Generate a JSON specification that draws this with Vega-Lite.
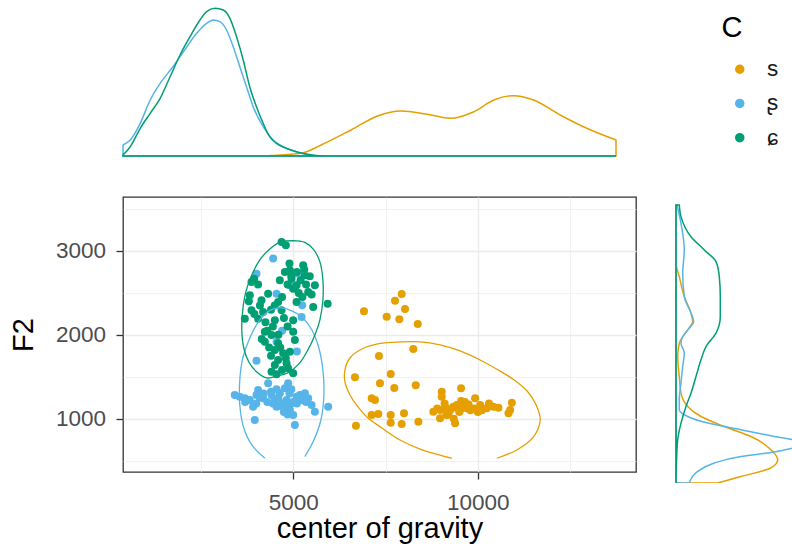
{
  "$schema": "https://vega.github.io/schema/vega-lite/v6.json",
  "background": "white",
  "padding": {"left": 8, "top": 1, "right": 0, "bottom": 0},
  "autosize": {"type": "pad"},
  "config": {
    "font": "Liberation Sans",
    "view": {"stroke": null},
    "axis": {
      "labelFont": "Liberation Sans", "labelFontSize": 22.5, "labelColor": "#4D4D4D",
      "titleFont": "Liberation Sans", "titleFontSize": 29, "titleFontWeight": "normal", "titleColor": "#000000",
      "tickColor": "#333333", "tickSize": 7, "tickWidth": 1.3, "domain": false,
      "gridColor": "#EBEBEB"
    }
  },
  "columns": 2,
  "bounds": "flush",
  "align": "each",
  "spacing": {"row": 41, "column": 39},
  "resolve": {"legend": {"color": "independent", "stroke": "independent"}},
  "datasets": {
    "scatter": [
      {"C":"s","cog":7939,"F2":2488},{"C":"s","cog":7757,"F2":2408},{"C":"s","cog":8028,"F2":2309},{"C":"s","cog":6917,"F2":2281},{"C":"s","cog":7532,"F2":2217},{"C":"s","cog":7874,"F2":2186},{"C":"s","cog":8373,"F2":2130},{"C":"s","cog":8253,"F2":1832},{"C":"s","cog":7323,"F2":1748},{"C":"s","cog":7641,"F2":1533},{"C":"s","cog":6673,"F2":1494},{"C":"s","cog":7350,"F2":1422},{"C":"s","cog":7738,"F2":1366},{"C":"s","cog":8318,"F2":1398},{"C":"s","cog":9023,"F2":1322},{"C":"s","cog":9546,"F2":1363},{"C":"s","cog":7125,"F2":1243},{"C":"s","cog":7215,"F2":1223},{"C":"s","cog":9023,"F2":1262},{"C":"s","cog":8795,"F2":1084},{"C":"s","cog":9159,"F2":1124},{"C":"s","cog":9338,"F2":1143},{"C":"s","cog":9430,"F2":1163},{"C":"s","cog":9701,"F2":1124},{"C":"s","cog":9926,"F2":1243},{"C":"s","cog":10062,"F2":1163},{"C":"s","cog":10243,"F2":1124},{"C":"s","cog":10422,"F2":1143},{"C":"s","cog":10558,"F2":1130},{"C":"s","cog":10921,"F2":1191},{"C":"s","cog":10875,"F2":1104},{"C":"s","cog":10829,"F2":1064},{"C":"s","cog":7125,"F2":1044},{"C":"s","cog":7304,"F2":1056},{"C":"s","cog":7641,"F2":1044},{"C":"s","cog":7641,"F2":952},{"C":"s","cog":8001,"F2":1064},{"C":"s","cog":7939,"F2":937},{"C":"s","cog":8389,"F2":964},{"C":"s","cog":8977,"F2":1005},{"C":"s","cog":9384,"F2":945},{"C":"s","cog":6700,"F2":916},{"C":"s","cog":9100,"F2":1180},{"C":"s","cog":9250,"F2":1100},{"C":"s","cog":9500,"F2":1080},{"C":"s","cog":9600,"F2":1150},{"C":"s","cog":9800,"F2":1100},{"C":"s","cog":9200,"F2":1050},{"C":"s","cog":9350,"F2":1000},{"C":"s","cog":9650,"F2":1200},{"C":"s","cog":9900,"F2":1120},{"C":"s","cog":10100,"F2":1100},{"C":"s","cog":9450,"F2":1120},{"C":"s","cog":9550,"F2":1210},{"C":"s","cog":10300,"F2":1180},{"C":"s","cog":9750,"F2":1170},{"C":"s","cog":10000,"F2":1080},{"C":"s","cog":8900,"F2":1120},{"C":"s","cog":9150,"F2":1050},{"C":"s","cog":9519,"F2":1104},{"C":"s","cog":8977,"F2":1104},{"C":"s","cog":9159,"F2":1044},{"C":"s","cog":10107,"F2":1104},
      {"C":"ʂ","cog":4458,"F2":2909},{"C":"ʂ","cog":4008,"F2":2730},{"C":"ʂ","cog":4911,"F2":2591},{"C":"ʂ","cog":5136,"F2":2730},{"C":"ʂ","cog":4550,"F2":2491},{"C":"ʂ","cog":5244,"F2":2353},{"C":"ʂ","cog":5228,"F2":2213},{"C":"ʂ","cog":4550,"F2":1919},{"C":"ʂ","cog":4008,"F2":1692},{"C":"ʂ","cog":4700,"F2":2050},{"C":"ʂ","cog":5100,"F2":1800},
      {"C":"ʂ","cog":3419,"F2":1283},{"C":"ʂ","cog":3555,"F2":1262},{"C":"ʂ","cog":3691,"F2":1243},{"C":"ʂ","cog":3826,"F2":1223},{"C":"ʂ","cog":3916,"F2":1143},{"C":"ʂ","cog":4008,"F2":1283},{"C":"ʂ","cog":4051,"F2":1342},{"C":"ʂ","cog":4187,"F2":1243},{"C":"ʂ","cog":4322,"F2":1422},{"C":"ʂ","cog":4414,"F2":1283},{"C":"ʂ","cog":4504,"F2":1223},{"C":"ʂ","cog":4550,"F2":1143},{"C":"ʂ","cog":4639,"F2":1303},{"C":"ʂ","cog":4775,"F2":1363},{"C":"ʂ","cog":4821,"F2":1223},{"C":"ʂ","cog":4864,"F2":1422},{"C":"ʂ","cog":4911,"F2":1104},{"C":"ʂ","cog":5000,"F2":1044},{"C":"ʂ","cog":5046,"F2":925},{"C":"ʂ","cog":4957,"F2":1184},{"C":"ʂ","cog":5092,"F2":1262},{"C":"ʂ","cog":5182,"F2":1283},{"C":"ʂ","cog":5317,"F2":1303},{"C":"ʂ","cog":5407,"F2":1243},{"C":"ʂ","cog":5499,"F2":1163},{"C":"ʂ","cog":5588,"F2":1084},{"C":"ʂ","cog":5949,"F2":1143},{"C":"ʂ","cog":3961,"F2":984},
      {"C":"ʂ","cog":4300,"F2":1200},{"C":"ʂ","cog":4600,"F2":1250},{"C":"ʂ","cog":4700,"F2":1180},{"C":"ʂ","cog":4400,"F2":1320},{"C":"ʂ","cog":4900,"F2":1300},{"C":"ʂ","cog":5000,"F2":1200},{"C":"ʂ","cog":4750,"F2":1080},{"C":"ʂ","cog":4850,"F2":1050},{"C":"ʂ","cog":4200,"F2":1300},{"C":"ʂ","cog":3700,"F2":1200},{"C":"ʂ","cog":4650,"F2":1150},{"C":"ʂ","cog":5100,"F2":1180},{"C":"ʂ","cog":5250,"F2":1220},{"C":"ʂ","cog":4450,"F2":1180},{"C":"ʂ","cog":4950,"F2":1350},{"C":"ʂ","cog":5350,"F2":1200},{"C":"ʂ","cog":4550,"F2":1350},{"C":"ʂ","cog":4000,"F2":1180},{"C":"ʂ","cog":4100,"F2":1250},{"C":"ʂ","cog":4850,"F2":1150},
      {"C":"ɕ","cog":4686,"F2":3108},{"C":"ɕ","cog":4802,"F2":3069},{"C":"ɕ","cog":3943,"F2":2670},{"C":"ɕ","cog":3872,"F2":2631},{"C":"ɕ","cog":4775,"F2":2750},{"C":"ɕ","cog":4911,"F2":2770},{"C":"ɕ","cog":5271,"F2":2830},{"C":"ɕ","cog":5317,"F2":2711},{"C":"ɕ","cog":4639,"F2":2651},{"C":"ɕ","cog":4957,"F2":2670},{"C":"ɕ","cog":5092,"F2":2591},{"C":"ɕ","cog":5588,"F2":2591},{"C":"ɕ","cog":5407,"F2":2512},{"C":"ɕ","cog":3826,"F2":2472},{"C":"ɕ","cog":4322,"F2":2491},{"C":"ɕ","cog":4143,"F2":2412},{"C":"ɕ","cog":4593,"F2":2392},{"C":"ɕ","cog":5092,"F2":2392},{"C":"ɕ","cog":5542,"F2":2333},{"C":"ɕ","cog":5933,"F2":2372},{"C":"ɕ","cog":3872,"F2":2293},{"C":"ɕ","cog":4187,"F2":2273},{"C":"ɕ","cog":4686,"F2":2293},{"C":"ɕ","cog":3691,"F2":2193},{"C":"ɕ","cog":4051,"F2":2193},{"C":"ɕ","cog":4504,"F2":2174},{"C":"ɕ","cog":5000,"F2":2174},{"C":"ɕ","cog":4233,"F2":2038},{"C":"ɕ","cog":4414,"F2":1999},{"C":"ɕ","cog":5000,"F2":2038},{"C":"ɕ","cog":4233,"F2":1919},{"C":"ɕ","cog":4593,"F2":1900},{"C":"ɕ","cog":5046,"F2":1939},{"C":"ɕ","cog":4504,"F2":1820},{"C":"ɕ","cog":4729,"F2":1780},{"C":"ɕ","cog":4911,"F2":1799},{"C":"ɕ","cog":4593,"F2":1700},{"C":"ɕ","cog":4821,"F2":1661},{"C":"ɕ","cog":4504,"F2":1640},{"C":"ɕ","cog":4414,"F2":1561},{"C":"ɕ","cog":5000,"F2":1542},{"C":"ɕ","cog":4864,"F2":1601},
      {"C":"ɕ","cog":4950,"F2":2700},{"C":"ɕ","cog":5100,"F2":2750},{"C":"ɕ","cog":5200,"F2":2650},{"C":"ɕ","cog":4850,"F2":2600},{"C":"ɕ","cog":5000,"F2":2550},{"C":"ɕ","cog":5150,"F2":2500},{"C":"ɕ","cog":4700,"F2":2450},{"C":"ɕ","cog":4400,"F2":2300},{"C":"ɕ","cog":4250,"F2":2150},{"C":"ɕ","cog":4450,"F2":2100},{"C":"ɕ","cog":4600,"F2":2000},{"C":"ɕ","cog":4350,"F2":1850},{"C":"ɕ","cog":4650,"F2":1850},{"C":"ɕ","cog":4800,"F2":1720},{"C":"ɕ","cog":4400,"F2":1750},{"C":"ɕ","cog":4700,"F2":1580},{"C":"ɕ","cog":4550,"F2":1530},{"C":"ɕ","cog":3800,"F2":2400},{"C":"ɕ","cog":3950,"F2":2250},{"C":"ɕ","cog":4100,"F2":2350},{"C":"ɕ","cog":5250,"F2":2450},{"C":"ɕ","cog":5350,"F2":2600},{"C":"ɕ","cog":5450,"F2":2700},{"C":"ɕ","cog":5300,"F2":2780},{"C":"ɕ","cog":4900,"F2":2850},{"C":"ɕ","cog":5500,"F2":2480},{"C":"ɕ","cog":4050,"F2":2600},{"C":"ɕ","cog":4750,"F2":2200},{"C":"ɕ","cog":4850,"F2":2100},{"C":"ɕ","cog":4500,"F2":2350},{"C":"ɕ","cog":4300,"F2":2050},{"C":"ɕ","cog":4150,"F2":1950}
    ],
    "ellipse": [
      {"C":"s","i":1,"cog":10514,"F2":528},{"C":"s","i":2,"cog":11056,"F2":627},{"C":"s","i":3,"cog":11506,"F2":782},{"C":"s","i":4,"cog":11688,"F2":984},{"C":"s","i":5,"cog":11579,"F2":1163},{"C":"s","i":6,"cog":11335,"F2":1330},{"C":"s","i":7,"cog":10983,"F2":1462},{"C":"s","i":8,"cog":10549,"F2":1581},{"C":"s","i":9,"cog":10061,"F2":1700},{"C":"s","i":10,"cog":9519,"F2":1808},{"C":"s","i":11,"cog":8976,"F2":1879},{"C":"s","i":12,"cog":8434,"F2":1915},{"C":"s","i":13,"cog":7893,"F2":1915},{"C":"s","i":14,"cog":7350,"F2":1897},{"C":"s","i":15,"cog":6862,"F2":1831},{"C":"s","i":16,"cog":6537,"F2":1724},{"C":"s","i":17,"cog":6402,"F2":1581},{"C":"s","i":18,"cog":6402,"F2":1438},{"C":"s","i":19,"cog":6537,"F2":1283},{"C":"s","i":20,"cog":6754,"F2":1140},{"C":"s","i":21,"cog":7025,"F2":1008},{"C":"s","i":22,"cog":7405,"F2":889},{"C":"s","i":23,"cog":7893,"F2":745},{"C":"s","i":24,"cog":8434,"F2":638},{"C":"s","i":25,"cog":8976,"F2":566},{"C":"s","i":26,"cog":9294,"F2":528},
      {"C":"ʂ","i":1,"cog":4233,"F2":528},{"C":"ʂ","i":2,"cog":3880,"F2":687},{"C":"ʂ","i":3,"cog":3663,"F2":889},{"C":"ʂ","i":4,"cog":3555,"F2":1163},{"C":"ʂ","i":5,"cog":3555,"F2":1462},{"C":"ʂ","i":6,"cog":3636,"F2":1724},{"C":"ʂ","i":7,"cog":3826,"F2":1963},{"C":"ʂ","i":8,"cog":4097,"F2":2178},{"C":"ʂ","i":9,"cog":4395,"F2":2297},{"C":"ʂ","i":10,"cog":4667,"F2":2321},{"C":"ʂ","i":11,"cog":4965,"F2":2285},{"C":"ʂ","i":12,"cog":5263,"F2":2202},{"C":"ʂ","i":13,"cog":5507,"F2":2058},{"C":"ʂ","i":14,"cog":5696,"F2":1843},{"C":"ʂ","i":15,"cog":5805,"F2":1581},{"C":"ʂ","i":16,"cog":5832,"F2":1283},{"C":"ʂ","i":17,"cog":5751,"F2":984},{"C":"ʂ","i":18,"cog":5561,"F2":745},{"C":"ʂ","i":19,"cog":5317,"F2":547},
      {"C":"ɕ","i":1,"cog":4992,"F2":3124},{"C":"ɕ","i":2,"cog":5317,"F2":3102},{"C":"ɕ","i":3,"cog":5561,"F2":3013},{"C":"ɕ","i":4,"cog":5724,"F2":2870},{"C":"ɕ","i":5,"cog":5805,"F2":2655},{"C":"ɕ","i":6,"cog":5805,"F2":2416},{"C":"ɕ","i":7,"cog":5724,"F2":2178},{"C":"ɕ","i":8,"cog":5588,"F2":1999},{"C":"ɕ","i":9,"cog":5399,"F2":1820},{"C":"ɕ","i":10,"cog":5155,"F2":1653},{"C":"ɕ","i":11,"cog":4856,"F2":1546},{"C":"ɕ","i":12,"cog":4558,"F2":1510},{"C":"ɕ","i":13,"cog":4287,"F2":1486},{"C":"ɕ","i":14,"cog":4016,"F2":1557},{"C":"ɕ","i":15,"cog":3799,"F2":1676},{"C":"ɕ","i":16,"cog":3663,"F2":1843},{"C":"ɕ","i":17,"cog":3609,"F2":2058},{"C":"ɕ","i":18,"cog":3636,"F2":2297},{"C":"ɕ","i":19,"cog":3718,"F2":2512},{"C":"ɕ","i":20,"cog":3880,"F2":2714},{"C":"ɕ","i":21,"cog":4097,"F2":2893},{"C":"ɕ","i":22,"cog":4368,"F2":3024},{"C":"ɕ","i":23,"cog":4667,"F2":3108},{"C":"ɕ","i":24,"cog":4992,"F2":3124}
    ],
    "topdens": [
      {"C":"s","cog":3400,"density":0},{"C":"s","cog":5500,"density":0},{"C":"s","cog":5672,"density":0.5},{"C":"s","cog":6130,"density":2.7},{"C":"s","cog":6435,"density":11},{"C":"s","cog":6892,"density":26},{"C":"s","cog":7299,"density":40},{"C":"s","cog":7655,"density":45},{"C":"s","cog":8062,"density":41.7},{"C":"s","cog":8417,"density":37.7},{"C":"s","cog":8773,"density":44.3},{"C":"s","cog":9078,"density":56},{"C":"s","cog":9383,"density":60.3},{"C":"s","cog":9688,"density":56},{"C":"s","cog":10095,"density":41},{"C":"s","cog":10502,"density":27.7},{"C":"s","cog":10950,"density":16},
      {"C":"ʂ","cog":3400,"density":11},{"C":"ʂ","cog":3511,"density":16},{"C":"ʂ","cog":3664,"density":32.7},{"C":"ʂ","cog":3816,"density":56},{"C":"ʂ","cog":3969,"density":72.7},{"C":"ʂ","cog":4147,"density":87.7},{"C":"ʂ","cog":4326,"density":104.3},{"C":"ʂ","cog":4528,"density":122.7},{"C":"ʂ","cog":4681,"density":132.7},{"C":"ʂ","cog":4783,"density":136},{"C":"ʂ","cog":4884,"density":134.3},{"C":"ʂ","cog":4986,"density":126},{"C":"ʂ","cog":5088,"density":109.3},{"C":"ʂ","cog":5189,"density":89.3},{"C":"ʂ","cog":5291,"density":69.3},{"C":"ʂ","cog":5393,"density":49.3},{"C":"ʂ","cog":5546,"density":29.3},{"C":"ʂ","cog":5698,"density":16},{"C":"ʂ","cog":5851,"density":9.3},{"C":"ʂ","cog":6054,"density":4.3},{"C":"ʂ","cog":6256,"density":1},{"C":"ʂ","cog":6461,"density":0},{"C":"ʂ","cog":10950,"density":0},
      {"C":"ɕ","cog":3400,"density":1},{"C":"ɕ","cog":3511,"density":9.3},{"C":"ɕ","cog":3664,"density":27.7},{"C":"ɕ","cog":3816,"density":42.7},{"C":"ɕ","cog":3969,"density":57.7},{"C":"ɕ","cog":4121,"density":79.3},{"C":"ɕ","cog":4274,"density":101},{"C":"ɕ","cog":4426,"density":119.3},{"C":"ɕ","cog":4579,"density":136},{"C":"ɕ","cog":4681,"density":144.3},{"C":"ɕ","cog":4808,"density":147.7},{"C":"ɕ","cog":4936,"density":146},{"C":"ɕ","cog":5037,"density":137.7},{"C":"ɕ","cog":5139,"density":119.3},{"C":"ɕ","cog":5241,"density":96},{"C":"ɕ","cog":5341,"density":69.3},{"C":"ɕ","cog":5444,"density":49.3},{"C":"ɕ","cog":5546,"density":32.7},{"C":"ɕ","cog":5646,"density":19.3},{"C":"ɕ","cog":5749,"density":12.7},{"C":"ɕ","cog":5901,"density":7.7},{"C":"ɕ","cog":6054,"density":4.3},{"C":"ɕ","cog":6206,"density":2},{"C":"ɕ","cog":6409,"density":0.3},{"C":"ɕ","cog":6600,"density":0},{"C":"ɕ","cog":10950,"density":0}
    ],
    "rightdens": [
      {"C":"s","F2":3110,"density":0},{"C":"s","F2":2649,"density":0},{"C":"s","F2":2543,"density":3.3},{"C":"s","F2":2385,"density":8.3},{"C":"s","F2":2254,"density":15},{"C":"s","F2":2187,"density":16.7},{"C":"s","F2":2122,"density":11.7},{"C":"s","F2":2016,"density":3.3},{"C":"s","F2":1911,"density":1.7},{"C":"s","F2":1753,"density":3.3},{"C":"s","F2":1621,"density":5},{"C":"s","F2":1516,"density":11.7},{"C":"s","F2":1436,"density":25},{"C":"s","F2":1357,"density":48.3},{"C":"s","F2":1278,"density":75},{"C":"s","F2":1173,"density":95},{"C":"s","F2":1094,"density":101.7},{"C":"s","F2":1029,"density":95},{"C":"s","F2":962,"density":65},{"C":"s","F2":910,"density":41.7},
      {"C":"ʂ","F2":3110,"density":1},{"C":"ʂ","F2":2965,"density":5},{"C":"ʂ","F2":2754,"density":8.3},{"C":"ʂ","F2":2570,"density":6.7},{"C":"ʂ","F2":2385,"density":8.3},{"C":"ʂ","F2":2254,"density":15},{"C":"ʂ","F2":2187,"density":17.7},{"C":"ʂ","F2":2135,"density":13.3},{"C":"ʂ","F2":2069,"density":6.7},{"C":"ʂ","F2":2016,"density":5},{"C":"ʂ","F2":1938,"density":8.3},{"C":"ʂ","F2":1832,"density":6.7},{"C":"ʂ","F2":1701,"density":5},{"C":"ʂ","F2":1568,"density":3.3},{"C":"ʂ","F2":1489,"density":3.3},{"C":"ʂ","F2":1436,"density":11.7},{"C":"ʂ","F2":1384,"density":31.7},{"C":"ʂ","F2":1331,"density":65},{"C":"ʂ","F2":1278,"density":98.3},{"C":"ʂ","F2":1252,"density":117},{"C":"ʂ","F2":1221,"density":130},{"C":"ʂ","F2":1187,"density":117},{"C":"ʂ","F2":1147,"density":91.7},{"C":"ʂ","F2":1120,"density":65},{"C":"ʂ","F2":1068,"density":38.3},{"C":"ʂ","F2":1002,"density":21.7},{"C":"ʂ","F2":910,"density":13.3},
      {"C":"ɕ","F2":3110,"density":3.3},{"C":"ɕ","F2":3018,"density":5},{"C":"ɕ","F2":2859,"density":15},{"C":"ɕ","F2":2754,"density":28.3},{"C":"ɕ","F2":2662,"density":40},{"C":"ɕ","F2":2543,"density":43.3},{"C":"ɕ","F2":2385,"density":44.3},{"C":"ɕ","F2":2227,"density":44.3},{"C":"ɕ","F2":2096,"density":40},{"C":"ɕ","F2":1990,"density":30},{"C":"ɕ","F2":1885,"density":25},{"C":"ɕ","F2":1753,"density":20},{"C":"ɕ","F2":1621,"density":15},{"C":"ɕ","F2":1516,"density":10},{"C":"ɕ","F2":1384,"density":5},{"C":"ɕ","F2":1252,"density":1.7},{"C":"ɕ","F2":1120,"density":0.7},{"C":"ɕ","F2":910,"density":0}
    ]
  },
  "concat": [
    {
      "width": 493, "height": 155,
      "data": {"name": "topdens"},
      "mark": {"type": "area", "fill": "transparent", "strokeWidth": 1.5, "interpolate": "monotone"},
      "encoding": {
        "x": {"field": "cog", "type": "quantitative", "scale": {"domain": [3400, 10950], "nice": false, "zero": false}, "axis": null},
        "y": {"field": "density", "type": "quantitative", "stack": null, "scale": {"domain": [0, 155], "nice": false}, "axis": null},
        "stroke": {"field": "C", "type": "nominal", "scale": {"domain": ["s", "ʂ", "ɕ"], "range": ["#E69F00", "#56B4E9", "#009E73"]}, "legend": null}
      }
    },
    {
      "width": 117, "height": 155,
      "data": {"values": [{"a": 1}]},
      "mark": {"type": "point", "opacity": 0},
      "encoding": {}
    },
    {
      "width": 513, "height": 275,
      "view": {"stroke": "#333333", "strokeWidth": 1.3},
      "layer": [
        {
          "data": {"name": "scatter"},
          "mark": {"type": "circle", "size": 64, "opacity": 1},
          "encoding": {
            "x": {"field": "cog", "type": "quantitative", "title": "center of gravity",
              "scale": {"domain": [393, 14282], "nice": false, "zero": false},
              "axis": {
                "values": [2500, 5000, 7500, 10000, 12500], "format": "d",
                "labelExpr": "datum.value % 5000 === 0 ? datum.label : ''",
                "tickOpacity": {"condition": {"test": "datum.value % 5000 === 0", "value": 1}, "value": 0},
                "gridWidth": {"condition": {"test": "datum.value % 5000 === 0", "value": 1.3}, "value": 0.65},
                "labelPadding": 12, "titlePadding": 24, "titleBaseline": "alphabetic"
              }
            },
            "y": {"field": "F2", "type": "quantitative", "title": "F2",
              "scale": {"domain": [364, 3644], "nice": false, "zero": false},
              "axis": {
                "values": [500, 1000, 1500, 2000, 2500, 3000, 3500], "format": "d",
                "labelExpr": "datum.value % 1000 === 0 ? datum.label : ''",
                "tickOpacity": {"condition": {"test": "datum.value % 1000 === 0", "value": 1}, "value": 0},
                "gridWidth": {"condition": {"test": "datum.value % 1000 === 0", "value": 1.3}, "value": 0.65},
                "labelPadding": 10.5, "titlePadding": 23, "titleBaseline": "alphabetic"
              }
            },
            "color": {"field": "C", "type": "nominal",
              "scale": {"domain": ["s", "ʂ", "ɕ"], "range": ["#E69F00", "#56B4E9", "#009E73"]},
              "legend": {
                "orient": "none", "legendX": 598.5, "legendY": -183, "title": "C", "padding": 0,
                "titleFont": "Liberation Sans", "titleFontSize": 29, "titleFontWeight": "normal", "titleColor": "#000000", "titlePadding": 15,
                "labelFont": "Liberation Sans", "labelFontSize": 22.5, "labelColor": "#1A1A1A",
                "symbolType": "circle", "symbolSize": 64, "symbolOffset": 7, "labelOffset": 16, "rowPadding": 11.2
              }
            }
          }
        },
        {
          "data": {"name": "ellipse"},
          "mark": {"type": "line", "strokeWidth": 1.3, "interpolate": "catmull-rom", "clip": true},
          "encoding": {
            "x": {"field": "cog", "type": "quantitative"},
            "y": {"field": "F2", "type": "quantitative"},
            "stroke": {"field": "C", "type": "nominal", "scale": {"domain": ["s", "ʂ", "ɕ"], "range": ["#E69F00", "#56B4E9", "#009E73"]}, "legend": null},
            "order": {"field": "i", "type": "quantitative"}
          }
        }
      ]
    },
    {
      "width": 117, "height": 286,
      "data": {"name": "rightdens"},
      "mark": {"type": "area", "orient": "horizontal", "fill": "transparent", "strokeWidth": 1.5, "interpolate": "monotone", "clip": true},
      "encoding": {
        "y": {"field": "F2", "type": "quantitative", "scale": {"domain": [910, 3173], "nice": false, "zero": false}, "axis": null},
        "x": {"field": "density", "type": "quantitative", "stack": null, "scale": {"domain": [-1, 116], "nice": false}, "axis": null},
        "stroke": {"field": "C", "type": "nominal", "scale": {"domain": ["s", "ʂ", "ɕ"], "range": ["#E69F00", "#56B4E9", "#009E73"]}, "legend": null}
      }
    }
  ]
}
